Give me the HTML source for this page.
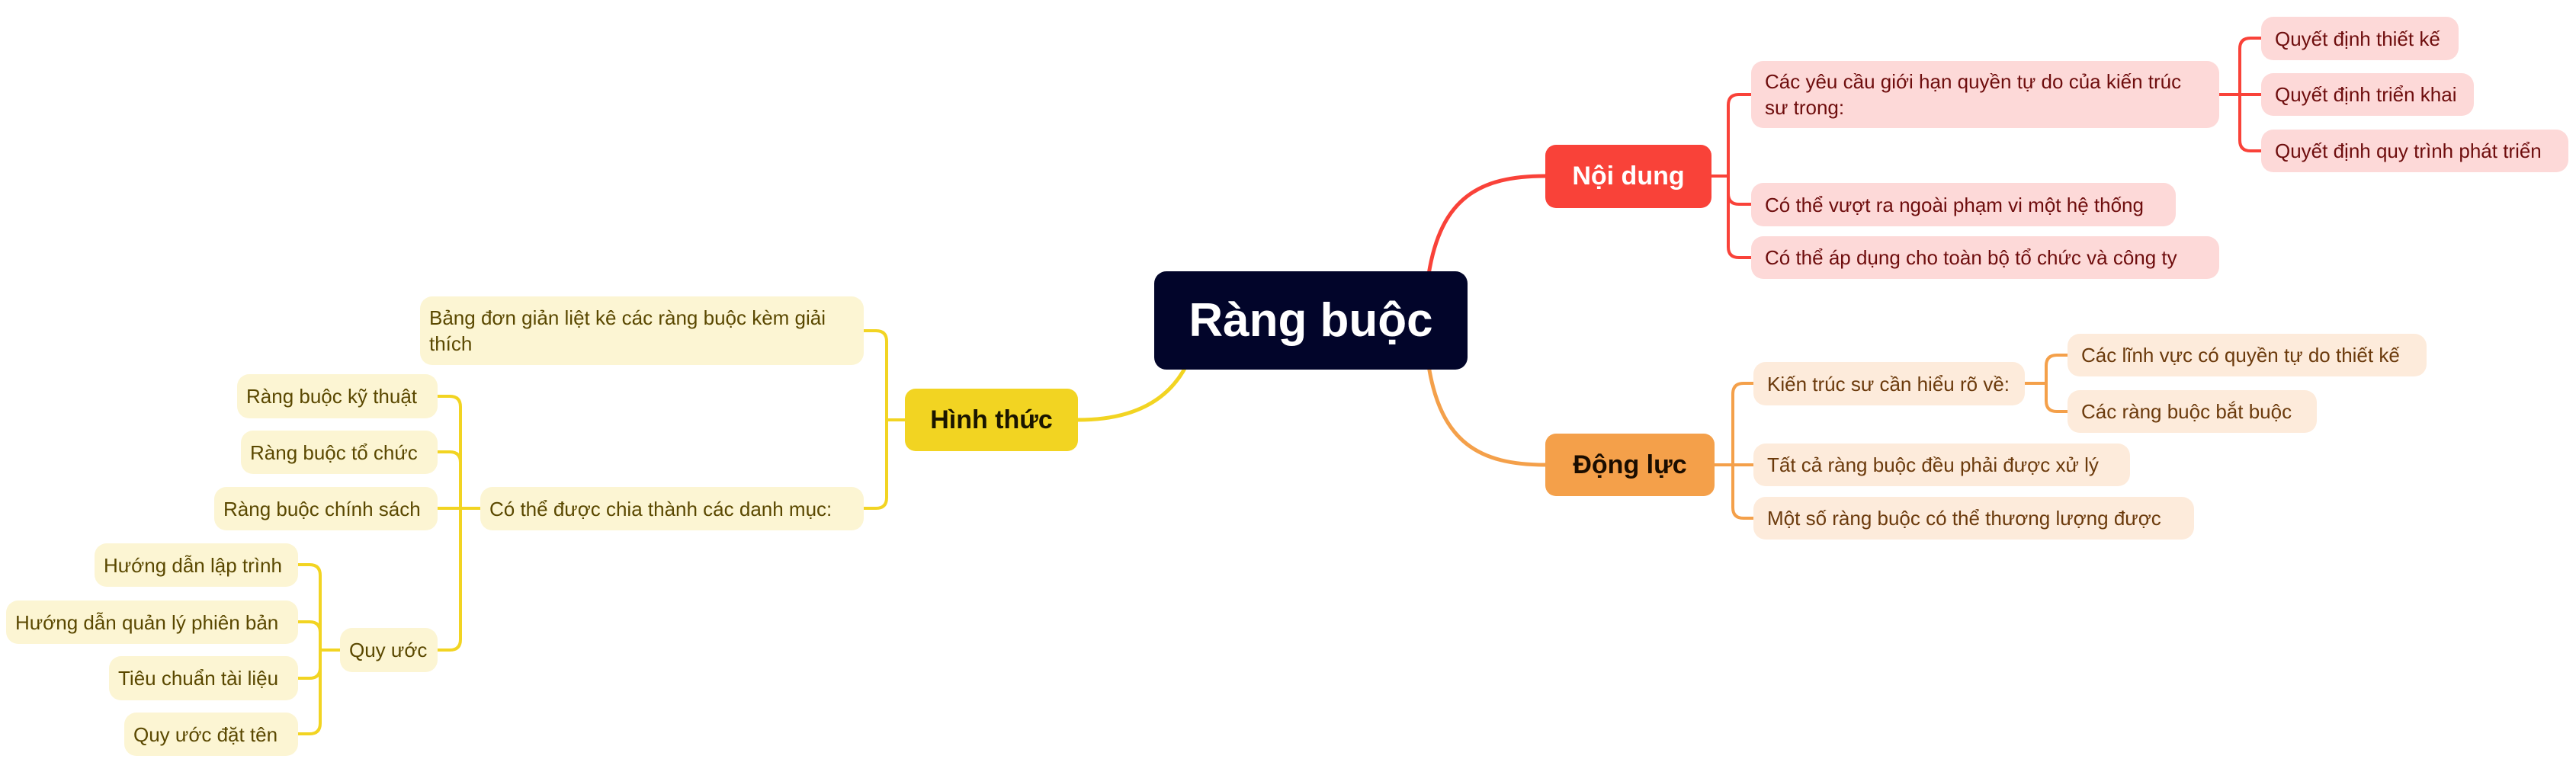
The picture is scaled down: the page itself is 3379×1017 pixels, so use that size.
<!DOCTYPE html>
<html><head><meta charset="utf-8"><style>
html,body{margin:0;padding:0;background:#fff;}
body{width:3379px;height:1017px;position:relative;overflow:hidden;font-family:"Liberation Sans","DejaVu Sans",sans-serif;}
.b{position:absolute;box-sizing:border-box;display:flex;align-items:center;padding:0 18px;font-size:26px;line-height:34px;border-radius:16px;white-space:nowrap;}
.p{background:#fdd9d8;color:#6e0d0d;}
.o{background:#fdebdb;color:#6b3a0c;}
.y{background:#fcf5d3;color:#5a4800;}
.m{position:absolute;box-sizing:border-box;display:flex;align-items:center;justify-content:center;font-size:34px;font-weight:bold;border-radius:14px;}
svg{position:absolute;left:0;top:0;}
</style></head><body>
<svg width="3379" height="1017" fill="none" stroke-linecap="round">
<g stroke="#f94239" stroke-width="5">
<path d="M1874,360 C1890,260 1940,231 2027,231"/>
</g>
<g stroke="#f94239" stroke-width="4">
<path d="M2245,231 H2267 V138 Q2267,124 2281,124 H2297"/>
<path d="M2267,231 V254 Q2267,268 2281,268 H2297"/>
<path d="M2267,231 V324 Q2267,338 2281,338 H2297"/>
<path d="M2911,124 H2938 V64 Q2938,50 2952,50 H2966"/>
<path d="M2938,124 H2966"/>
<path d="M2938,124 V184 Q2938,198 2952,198 H2966"/>
</g>
<g stroke="#f4a04a" stroke-width="5">
<path d="M1874,480 C1890,580 1940,610 2027,610"/>
</g>
<g stroke="#f4a04a" stroke-width="4">
<path d="M2249,610 H2273 V517 Q2273,503 2287,503 H2300"/>
<path d="M2273,610 H2300"/>
<path d="M2273,610 V666 Q2273,680 2287,680 H2300"/>
<path d="M2656,503 H2684 V480 Q2684,466 2698,466 H2712"/>
<path d="M2684,503 V526 Q2684,540 2698,540 H2712"/>
</g>
<g stroke="#f2d422" stroke-width="5">
<path d="M1556,480 C1530,530 1480,551 1414,551"/>
</g>
<g stroke="#f2d422" stroke-width="4">
<path d="M1187,551 H1163 V448 Q1163,434 1149,434 H1133"/>
<path d="M1163,551 V653 Q1163,667 1149,667 H1133"/>
<path d="M630,667 H604 V534 Q604,520 590,520 H574"/>
<path d="M604,667 V607 Q604,593 590,593 H574"/>
<path d="M604,667 H574"/>
<path d="M604,667 V839 Q604,853 590,853 H574"/>
<path d="M446,853 H420 V755 Q420,741 406,741 H391"/>
<path d="M420,853 V830 Q420,816 406,816 H391"/>
<path d="M420,853 V876 Q420,890 406,890 H391"/>
<path d="M420,853 V949 Q420,963 406,963 H391"/>
</g>
</svg>

<div class="m" style="left:1514px;top:356px;width:411px;height:129px;background:#02052a;color:#fff;font-size:62px;border-radius:16px;">Ràng buộc</div>
<div class="m" style="left:2027px;top:190px;width:218px;height:83px;background:#f94239;color:#fff;">Nội dung</div>
<div class="m" style="left:2027px;top:569px;width:222px;height:82px;background:#f4a04a;color:#1a0d00;">Động lực</div>
<div class="m" style="left:1187px;top:510px;width:227px;height:82px;background:#f2d422;color:#1a1500;">Hình thức</div>

<div class="b p" style="left:2297px;top:80px;width:614px;height:88px;white-space:normal;">Các yêu cầu giới hạn quyền tự do của kiến trúc sư trong:</div>
<div class="b p" style="left:2297px;top:240px;width:557px;height:57px;">Có thể vượt ra ngoài phạm vi một hệ thống</div>
<div class="b p" style="left:2297px;top:310px;width:614px;height:56px;">Có thể áp dụng cho toàn bộ tổ chức và công ty</div>
<div class="b p" style="left:2966px;top:22px;width:259px;height:57px;">Quyết định thiết kế</div>
<div class="b p" style="left:2966px;top:96px;width:279px;height:56px;">Quyết định triển khai</div>
<div class="b p" style="left:2966px;top:170px;width:403px;height:56px;">Quyết định quy trình phát triển</div>

<div class="b o" style="left:2300px;top:475px;width:356px;height:57px;">Kiến trúc sư cần hiểu rõ về:</div>
<div class="b o" style="left:2712px;top:438px;width:471px;height:56px;">Các lĩnh vực có quyền tự do thiết kế</div>
<div class="b o" style="left:2712px;top:512px;width:327px;height:56px;">Các ràng buộc bắt buộc</div>
<div class="b o" style="left:2300px;top:582px;width:494px;height:56px;">Tất cả ràng buộc đều phải được xử lý</div>
<div class="b o" style="left:2300px;top:652px;width:578px;height:56px;">Một số ràng buộc có thể thương lượng được</div>

<div class="b y" style="left:551px;top:389px;width:582px;height:90px;white-space:normal;padding:0 12px;">Bảng đơn giản liệt kê các ràng buộc kèm giải thích</div>
<div class="b y" style="left:630px;top:639px;width:503px;height:57px;padding:0 12px;">Có thể được chia thành các danh mục:</div>
<div class="b y" style="left:311px;top:491px;width:263px;height:58px;padding:0 12px;">Ràng buộc kỹ thuật</div>
<div class="b y" style="left:316px;top:565px;width:258px;height:57px;padding:0 12px;">Ràng buộc tổ chức</div>
<div class="b y" style="left:281px;top:639px;width:293px;height:57px;padding:0 12px;">Ràng buộc chính sách</div>
<div class="b y" style="left:446px;top:824px;width:128px;height:58px;padding:0 12px;">Quy ước</div>
<div class="b y" style="left:124px;top:713px;width:267px;height:57px;padding:0 12px;">Hướng dẫn lập trình</div>
<div class="b y" style="left:8px;top:788px;width:383px;height:57px;padding:0 12px;">Hướng dẫn quản lý phiên bản</div>
<div class="b y" style="left:143px;top:861px;width:248px;height:58px;padding:0 12px;">Tiêu chuẩn tài liệu</div>
<div class="b y" style="left:163px;top:935px;width:228px;height:57px;padding:0 12px;">Quy ước đặt tên</div>
</body></html>
